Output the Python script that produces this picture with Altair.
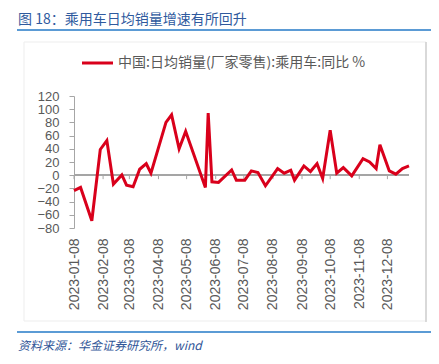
import altair as alt
import pandas as pd

# ---- data ----
dates = ["2023-01-08", "2023-01-15", "2023-01-27", "2023-02-05", "2023-02-12", "2023-02-19",
         "2023-02-28", "2023-03-05", "2023-03-12", "2023-03-19", "2023-03-26", "2023-03-31",
         "2023-04-16", "2023-04-22", "2023-04-30", "2023-05-07", "2023-05-28", "2023-05-31",
         "2023-06-04", "2023-06-11", "2023-06-25", "2023-06-30", "2023-07-09", "2023-07-16",
         "2023-07-23", "2023-07-31", "2023-08-13", "2023-08-20", "2023-08-27", "2023-08-31",
         "2023-09-10", "2023-09-17", "2023-09-24", "2023-09-30", "2023-10-08", "2023-10-15",
         "2023-10-22", "2023-10-31", "2023-11-12", "2023-11-19", "2023-11-26", "2023-11-30",
         "2023-12-10", "2023-12-17", "2023-12-24", "2023-12-31"]
values = [-23.5, -18.5, -69, 39, 52.5, -13.5,
          0.5, -15, -17.5, 9, 17.4, 3,
          80, 91.5, 40, 66.4, -18.5, 94,
          -10, -11, 8, -7.5, -7.5, 6.5,
          4, -16, 10, 3, 7.5, -7.5,
          14, 5.5, 17.5, -5, 68, 3,
          11.5, -1, 25, 20, 10, 46,
          6.5, 1.5, 10, 14]
tick_months = list(range(1, 13))
y_ticks = [-80, -60, -40, -20, 0, 20, 40, 60, 80, 100, 120]

series_name = "中国:日均销量(厂家零售):乘用车:同比 %"
title_text = "图 18：乘用车日均销量增速有所回升"
source_text = "资料来源：华金证券研究所，wind"

RED = "#D9001B"
CJK = "Noto Sans CJK SC"
LAT = "Liberation Sans"

df = pd.DataFrame({"date": dates, "value": values})
tick_df = pd.DataFrame({"date": [f"2023-{m:02d}-08" for m in tick_months],
                        "zero": [0] * 12, "low": [-6] * 12})

W, H = 335, 132

xscale = alt.Scale(type="utc",
                   domain=[alt.DateTime(year=2023, month=1, date=8, utc=True),
                           alt.DateTime(year=2023, month=12, date=31, utc=True)])
yscale = alt.Scale(domain=[-80, 120], nice=False, zero=False)

xaxis = alt.Axis(values=[alt.DateTime(year=2023, month=m, date=8, utc=True) for m in tick_months],
                 format="%Y-%m-%d", labelAngle=270, labelPadding=10, ticks=False, domain=False,
                 grid=False, title=None, labelFont=LAT, labelFontSize=14, labelColor="#595959",
                 labelOverlap=False, labelFlush=False)
yaxis = alt.Axis(values=y_ticks, title=None, grid=False, domainColor="#A6A6A6", tickColor="#A6A6A6",
                 tickSize=5, labelPadding=10, labelFont=LAT, labelFontSize=13, labelColor="#595959",
                 labelOverlap=False, labelFlush=False)

line = alt.Chart(df).mark_line(color=RED, strokeWidth=3, strokeJoin="miter").encode(
    x=alt.X("date:T", scale=xscale, axis=xaxis),
    y=alt.Y("value:Q", scale=yscale, axis=yaxis),
)

zero = alt.Chart(tick_df).mark_rule(color="#A6A6A6", strokeWidth=1).encode(
    x=alt.value(0), x2=alt.value(W), y=alt.Y("zero:Q", scale=yscale, axis=yaxis)
)

month_ticks = alt.Chart(tick_df).mark_rule(color="#A6A6A6", strokeWidth=1).encode(
    x=alt.X("date:T", scale=xscale, axis=xaxis),
    y=alt.Y("zero:Q", scale=yscale, axis=yaxis),
    y2="low:Q",
)

one = pd.DataFrame({"a": [0]})

frame = alt.Chart(one).mark_rect(fillOpacity=0, stroke="#EDEDED", strokeWidth=1).encode(
    x=alt.value(-50), x2=alt.value(352), y=alt.value(-54), y2=alt.value(225)
)
right_border = alt.Chart(one).mark_rule(color="#CFCFCF", strokeWidth=1.5).encode(
    x=alt.value(352), y=alt.value(-54), y2=alt.value(226)
)
header_line = alt.Chart(one).mark_rule(color="#5B9BD5", strokeWidth=2).encode(
    x=alt.value(-57), x2=alt.value(359), y=alt.value(-66)
)
footer_line = alt.Chart(one).mark_rule(color="#5B9BD5", strokeWidth=2).encode(
    x=alt.value(-57), x2=alt.value(359), y=alt.value(236)
)
title = alt.Chart(one).mark_text(align="left", baseline="middle", font=CJK, fontSize=14,
                                 color="#2F5A9E", text=title_text).encode(
    x=alt.value(-56), y=alt.value(-76)
)
legend_line = alt.Chart(one).mark_rule(color=RED, strokeWidth=3).encode(
    x=alt.value(8), x2=alt.value(39), y=alt.value(-33)
)
legend_text = alt.Chart(one).mark_text(align="left", baseline="middle", font=CJK, fontSize=14,
                                       color="#595959", text=series_name).encode(
    x=alt.value(44), y=alt.value(-33)
)
source = alt.Chart(one).mark_text(align="left", baseline="middle", font=CJK, fontSize=12,
                                  fontStyle="italic", color="#2F5597", text=source_text).encode(
    x=alt.value(-56), y=alt.value(250)
)

chart = alt.layer(
    frame, right_border, header_line, footer_line, title, legend_line, legend_text, source,
    zero, month_ticks, line
).properties(
    width=W, height=H,
    autosize=alt.AutoSizeParams(type="none"),
    padding={"left": 66, "top": 88, "right": 22, "bottom": 128},
    background="white",
).configure_view(stroke=None).configure_axis(labelOverlap=False, labelFlush=False)

chart.save("out.html", embed_options={"renderer": "svg", "actions": False})
